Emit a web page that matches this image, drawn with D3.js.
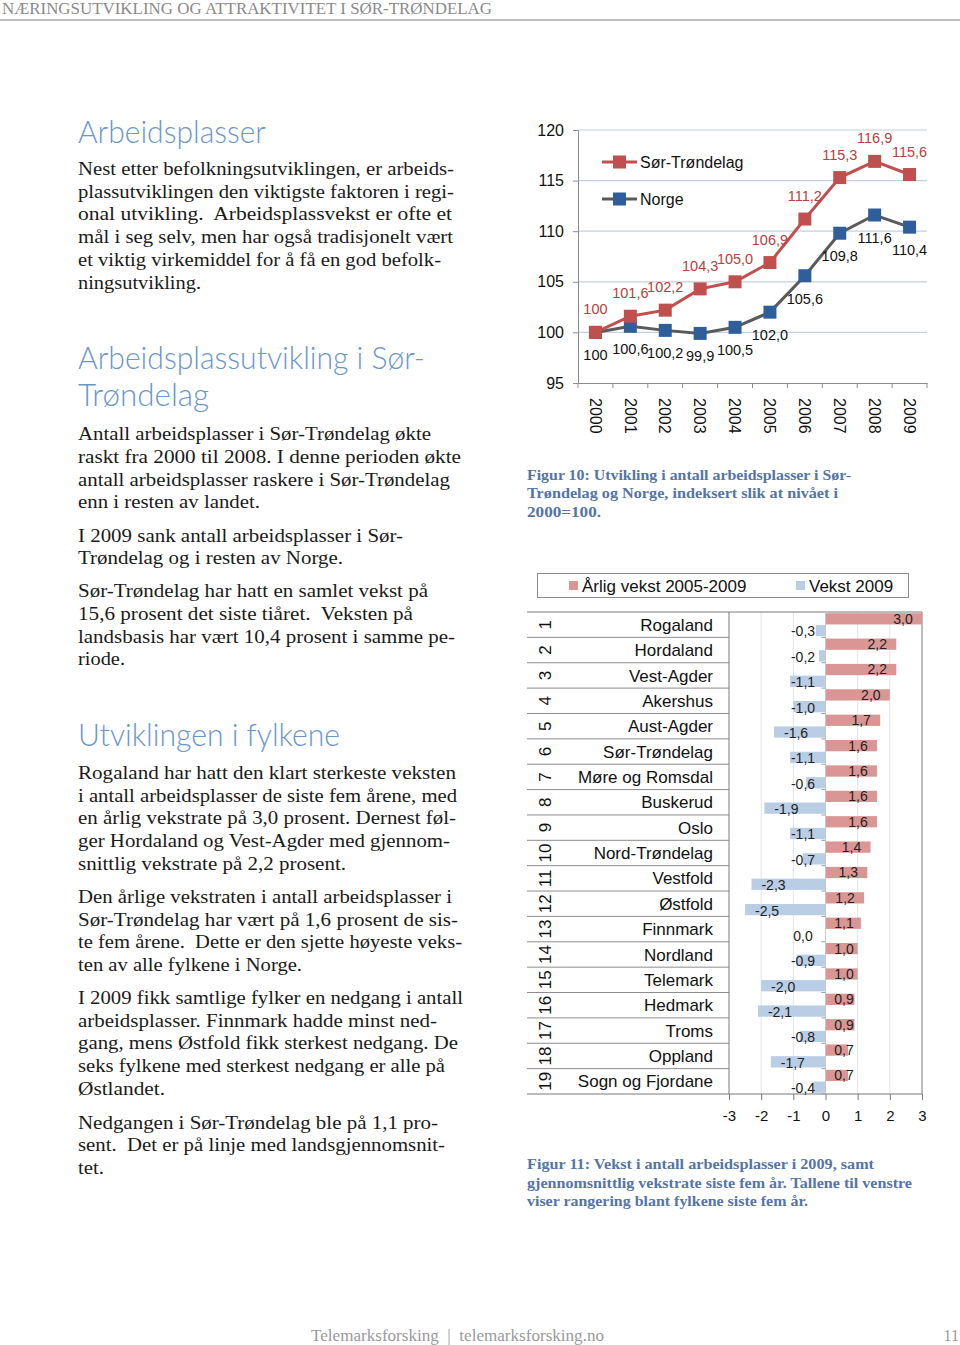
<!DOCTYPE html>
<html><head><meta charset="utf-8">
<script src="https://cdn.jsdelivr.net/npm/d3@7/dist/d3.min.js"></script>
<style>body{margin:0;background:#fff}svg{display:block}</style>
</head><body>
<script>
// ---------- DATA ----------
const years = ["2000","2001","2002","2003","2004","2005","2006","2007","2008","2009"];
const sorTrondelag = [100,101.6,102.2,104.3,105.0,106.9,111.2,115.3,116.9,115.6];
const norge = [100,100.6,100.2,99.9,100.5,102.0,105.6,109.8,111.6,110.4];
const lineYTicks = [95,100,105,110,115,120];

const ranks = [1,2,3,4,5,6,7,8,9,10,11,12,13,14,15,16,17,18,19];
const counties = ["Rogaland","Hordaland","Vest-Agder","Akershus","Aust-Agder","Sør-Trøndelag","Møre og Romsdal","Buskerud","Oslo","Nord-Trøndelag","Vestfold","Østfold","Finnmark","Nordland","Telemark","Hedmark","Troms","Oppland","Sogn og Fjordane"];
const annualGrowth = [3.0,2.2,2.2,2.0,1.7,1.6,1.6,1.6,1.6,1.4,1.3,1.2,1.1,1.0,1.0,0.9,0.9,0.7,0.7];
const growth2009 = [-0.3,-0.2,-1.1,-1.0,-1.6,-1.1,-0.6,-1.9,-1.1,-0.7,-2.3,-2.5,0.0,-0.9,-2.0,-2.1,-0.8,-1.7,-0.4];
const barXTicks = [-3,-2,-1,0,1,2,3];

// ---------- TEXT ----------
const headerText = "NÆRINGSUTVIKLING OG ATTRAKTIVITET I SØR-TRØNDELAG";
const headings = [
  {t:"Arbeidsplasser", y:143, end:266},
  {t:"Arbeidsplassutvikling i Sør-", y:369, end:425},
  {t:"Trøndelag", y:406, end:209},
  {t:"Utviklingen i fylkene", y:746, end:340}
];
const bodyLines = [
  ["Nest etter befolkningsutviklingen, er arbeids-",175,454],
  ["plassutviklingen den viktigste faktoren i regi-",198,454],
  ["onal utvikling.  Arbeidsplassvekst er ofte et",220,452],
  ["mål i seg selv, men har også tradisjonelt vært",243,453],
  ["et viktig virkemiddel for å få en god befolk-",266,441],
  ["ningsutvikling.",289,201],
  ["Antall arbeidsplasser i Sør-Trøndelag økte",440,431],
  ["raskt fra 2000 til 2008. I denne perioden økte",463,461],
  ["antall arbeidsplasser raskere i Sør-Trøndelag",486,450],
  ["enn i resten av landet.",508,260],
  ["I 2009 sank antall arbeidsplasser i Sør-",542,403],
  ["Trøndelag og i resten av Norge.",564,343],
  ["Sør-Trøndelag har hatt en samlet vekst på",597,428],
  ["15,6 prosent det siste tiåret.  Veksten på",620,413],
  ["landsbasis har vært 10,4 prosent i samme pe-",643,455],
  ["riode.",665,125],
  ["Rogaland har hatt den klart sterkeste veksten",779,456],
  ["i antall arbeidsplasser de siste fem årene, med",802,457],
  ["en årlig vekstrate på 3,0 prosent. Dernest føl-",824,456],
  ["ger Hordaland og Vest-Agder med gjennom-",847,450],
  ["snittlig vekstrate på 2,2 prosent.",870,346],
  ["Den årlige vekstraten i antall arbeidsplasser i",903,452],
  ["Sør-Trøndelag har vært på 1,6 prosent de sis-",926,458],
  ["te fem årene.  Dette er den sjette høyeste veks-",948,462],
  ["ten av alle fylkene i Norge.",971,302],
  ["I 2009 fikk samtlige fylker en nedgang i antall",1004,463],
  ["arbeidsplasser. Finnmark hadde minst ned-",1027,437],
  ["gang, mens Østfold fikk sterkest nedgang. De",1049,458],
  ["seks fylkene med sterkest nedgang er alle på",1072,445],
  ["Østlandet.",1095,165],
  ["Nedgangen i Sør-Trøndelag ble på 1,1 pro-",1129,438],
  ["sent.  Det er på linje med landsgjennomsnit-",1151,445],
  ["tet.",1174,104]
];
const caption10 = [["Figur 10: Utvikling i antall arbeidsplasser i Sør-",480,851],["Trøndelag og Norge, indeksert slik at nivået i",498,838],["2000=100.",517,601]];
const caption11 = [["Figur 11: Vekst i antall arbeidsplasser i 2009, samt",1169,874],["gjennomsnittlig vekstrate siste fem år. Tallene til venstre",1188,912],["viser rangering blant fylkene siste fem år.",1206,808]];

// ---------- SETUP ----------
const svg = d3.select("body").append("svg").attr("width",960).attr("height",1345);
const SANS = "'Liberation Sans', Arial, sans-serif";
const SERIF = "'Liberation Serif', 'Times New Roman', serif";
const locale = d3.formatLocale({decimal:",", thousands:" ", grouping:[3], currency:["",""], minus:"-"});
const f1 = locale.format(".1f");
const RED = "#c0504d", REDLBL = "#b9403d", BLUEMK = "#2f5f9b", GRAYLN = "#5a5a5a";

// header
svg.append("text").attr("x",2).attr("y",14).text(headerText)
  .attr("font-family",SERIF).attr("font-size",17).attr("fill","#8a8a8a")
  .attr("textLength",490).attr("lengthAdjust","spacingAndGlyphs");
svg.append("line").attr("x1",0).attr("x2",960).attr("y1",20).attr("y2",20).attr("stroke","#a8a8a8").attr("stroke-width",1.6);

// headings
svg.selectAll("text.h").data(headings).join("text").attr("class","h")
  .attr("x",78).attr("y",d=>d.y).text(d=>d.t)
  .attr("font-family","Lato, 'Open Sans', sans-serif").attr("font-weight",300)
  .attr("font-size",32).attr("fill","#6b96c9")
  .attr("textLength",d=>d.end-78).attr("lengthAdjust","spacingAndGlyphs");

// body text
svg.selectAll("text.b").data(bodyLines).join("text").attr("class","b")
  .attr("x",78).attr("y",d=>d[1]).text(d=>d[0])
  .attr("font-family",SERIF).attr("font-size",19.5).attr("fill","#1a1a1a")
  .attr("textLength",d=>d[2]-78).attr("lengthAdjust","spacingAndGlyphs")
  .style("white-space","pre");

// captions
svg.selectAll("text.c").data(caption10.concat(caption11)).join("text").attr("class","c")
  .attr("x",527).attr("y",d=>d[1]).text(d=>d[0])
  .attr("font-family",SERIF).attr("font-weight","bold").attr("font-size",15.5).attr("fill","#5475a5")
  .attr("textLength",d=>d[2]-527).attr("lengthAdjust","spacingAndGlyphs");

// footer
svg.append("text").attr("x",311).attr("y",1341).text("Telemarksforsking  |  telemarksforsking.no")
  .attr("font-family",SERIF).attr("font-size",16).attr("fill","#9a9a9a")
  .attr("textLength",293).attr("lengthAdjust","spacingAndGlyphs").style("white-space","pre");
svg.append("text").attr("x",959).attr("y",1341).attr("text-anchor","end").text("11")
  .attr("font-family",SERIF).attr("font-size",16).attr("fill","#9a9a9a");

// ---------- LINE CHART ----------
const lx = d3.scaleBand().domain(years).range([578,927]);
const ly = d3.scaleLinear().domain([95,120]).range([383,130]);
const lc = svg.append("g");
lc.selectAll("line.g").data(lineYTicks.filter(v=>v>95)).join("line")
  .attr("x1",578).attr("x2",927).attr("y1",d=>ly(d)).attr("y2",d=>ly(d))
  .attr("stroke","#c3d0df").attr("stroke-width",1.2);
const yAx = lc.append("g").attr("transform","translate(578,0)")
  .call(d3.axisLeft(ly).tickValues(lineYTicks).tickSize(5).tickPadding(9).tickFormat(d3.format("d")));
yAx.select(".domain").attr("stroke","#8c8c8c");
yAx.selectAll(".tick line").attr("stroke","#8c8c8c");
yAx.selectAll("text").attr("font-family",SANS).attr("font-size",16).attr("fill","#111");
const xAx = lc.append("g").attr("transform","translate(0,383)")
  .call(d3.axisBottom(lx).tickSize(0).tickFormat(""));
xAx.select(".domain").attr("stroke","#8c8c8c");
lc.selectAll("line.xt").data(d3.range(years.length+1)).join("line")
  .attr("x1",i=>578+i*lx.step()).attr("x2",i=>578+i*lx.step())
  .attr("y1",383).attr("y2",388).attr("stroke","#8c8c8c");
lc.selectAll("text.yr").data(years).join("text")
  .attr("transform",d=>`translate(${lx(d)+lx.bandwidth()/2},398) rotate(90)`)
  .attr("dy","0.36em").text(d=>d)
  .attr("font-family",SANS).attr("font-size",16).attr("fill","#111");

const cx = (d,i)=>lx(years[i])+lx.bandwidth()/2;
const lineGen = d3.line().x((d,i)=>cx(d,i)).y(d=>ly(d));
lc.append("path").datum(norge).attr("d",lineGen).attr("fill","none").attr("stroke",GRAYLN).attr("stroke-width",3);
lc.append("path").datum(sorTrondelag).attr("d",lineGen).attr("fill","none").attr("stroke",RED).attr("stroke-width",3);
const MS = 13;
lc.selectAll("rect.nm").data(norge).join("rect")
  .attr("x",(d,i)=>cx(d,i)-MS/2).attr("y",d=>ly(d)-MS/2).attr("width",MS).attr("height",MS).attr("fill",BLUEMK);
lc.selectAll("rect.sm").data(sorTrondelag).join("rect")
  .attr("x",(d,i)=>cx(d,i)-MS/2).attr("y",d=>ly(d)-MS/2).attr("width",MS).attr("height",MS).attr("fill",RED);
const lbl = (d,i)=> i===0 ? String(d) : f1(d);
lc.selectAll("text.sl").data(sorTrondelag).join("text")
  .attr("x",(d,i)=>cx(d,i)).attr("y",d=>ly(d)-18).attr("text-anchor","middle").text(lbl)
  .attr("font-family",SANS).attr("font-size",14.5).attr("fill",REDLBL);
lc.selectAll("text.nl").data(norge).join("text")
  .attr("x",(d,i)=>cx(d,i)).attr("y",d=>ly(d)+28).attr("text-anchor","middle").text(lbl)
  .attr("font-family",SANS).attr("font-size",14.5).attr("fill","#111");
const leg = [{n:"Sør-Trøndelag",c:RED,m:RED,y:162},{n:"Norge",c:GRAYLN,m:BLUEMK,y:199}];
const lg = lc.selectAll("g.lg").data(leg).join("g");
lg.append("line").attr("x1",602).attr("x2",637).attr("y1",d=>d.y).attr("y2",d=>d.y).attr("stroke",d=>d.c).attr("stroke-width",3);
lg.append("rect").attr("x",613).attr("y",d=>d.y-6.5).attr("width",MS).attr("height",MS).attr("fill",d=>d.m);
lg.append("text").attr("x",640).attr("y",d=>d.y+6).text(d=>d.n).attr("font-family",SANS).attr("font-size",16).attr("fill","#111");

// ---------- BAR CHART ----------
const bc = svg.append("g");
const by = d3.scaleBand().domain(counties).range([612,1094]);
const sub = d3.scaleBand().domain(["a","b"]).range([0,by.bandwidth()]).paddingInner(0.04).paddingOuter(0.1);
const bx = d3.scaleLinear().domain([-3,3]).range([729,922]);
const RBAR = "#da9694", BBAR = "#b9cde5";

bc.append("rect").attr("x",537.5).attr("y",573.5).attr("width",371).attr("height",24).attr("fill","none").attr("stroke","#8c8c8c");
const bl = [{n:"Årlig vekst 2005-2009",c:RBAR,x:569},{n:"Vekst 2009",c:BBAR,x:796}];
bc.selectAll("rect.bl").data(bl).join("rect").attr("x",d=>d.x).attr("y",581).attr("width",9).attr("height",9).attr("fill",d=>d.c);
bc.selectAll("text.bl").data(bl).join("text").attr("x",d=>d.x+13).attr("y",592).text(d=>d.n)
  .attr("font-family",SANS).attr("font-size",17).attr("fill","#111");

bc.selectAll("line.vg").data(barXTicks.filter(v=>v!==-3&&v!==3&&v!==0)).join("line")
  .attr("x1",d=>bx(d)).attr("x2",d=>bx(d)).attr("y1",612).attr("y2",1094)
  .attr("stroke","#dfe5ee").attr("stroke-width",1);
bc.selectAll("line.row").data(counties.slice(1)).join("line")
  .attr("x1",527).attr("x2",729).attr("y1",d=>by(d)).attr("y2",d=>by(d))
  .attr("stroke","#8c8c8c").attr("stroke-width",1);
bc.append("line").attr("x1",527).attr("x2",922).attr("y1",612).attr("y2",612).attr("stroke","#7a7a7a");
bc.append("line").attr("x1",729).attr("x2",729).attr("y1",612).attr("y2",1094).attr("stroke","#7a7a7a");
bc.append("line").attr("x1",922).attr("x2",922).attr("y1",612).attr("y2",1094).attr("stroke","#7a7a7a");
const bxAx = bc.append("g").attr("transform","translate(0,1094)")
  .call(d3.axisBottom(bx).tickValues(barXTicks).tickSize(6).tickPadding(10).tickFormat(d=>locale.format("d")(d)));
bxAx.select(".domain").remove();
bxAx.selectAll(".tick line").attr("stroke","#7a7a7a");
bxAx.selectAll("text").attr("font-family",SANS).attr("font-size",15).attr("fill","#111");
bc.append("line").attr("x1",527).attr("x2",922).attr("y1",1094).attr("y2",1094).attr("stroke","#7a7a7a");

bc.selectAll("rect.ra").data(annualGrowth).join("rect")
  .attr("x",bx(0)).attr("y",(d,i)=>by(counties[i])+sub("a"))
  .attr("width",d=>bx(d)-bx(0)).attr("height",sub.bandwidth()).attr("fill",RBAR);
bc.selectAll("rect.rb").data(growth2009).join("rect")
  .attr("x",d=>bx(d)).attr("y",(d,i)=>by(counties[i])+sub("b"))
  .attr("width",d=>bx(0)-bx(d)).attr("height",sub.bandwidth()).attr("fill",BBAR);
bc.append("line").attr("x1",bx(0)).attr("x2",bx(0)).attr("y1",612).attr("y2",1094).attr("stroke","#c8c8c8");
bc.selectAll("line.ct").data(counties).join("line")
  .attr("x1",bx(0)-4).attr("x2",bx(0)).attr("y1",d=>by(d)+by.bandwidth()).attr("y2",d=>by(d)+by.bandwidth())
  .attr("stroke","#9a9a9a");

bc.selectAll("text.va").data(annualGrowth).join("text")
  .attr("x",d=>Math.max(bx(d)-19,844)).attr("y",(d,i)=>by(counties[i])+sub("a")+sub.bandwidth()/2)
  .attr("dy","0.35em").attr("text-anchor","middle").text(d=>f1(d))
  .attr("font-family",SANS).attr("font-size",14).attr("fill","#222");
bc.selectAll("text.vb").data(growth2009).join("text")
  .attr("x",d=>Math.min(bx(d)+22,803)).attr("y",(d,i)=>by(counties[i])+sub("b")+sub.bandwidth()/2+1)
  .attr("dy","0.35em").attr("text-anchor","middle").text(d=>f1(d))
  .attr("font-family",SANS).attr("font-size",14).attr("fill","#222");

bc.selectAll("text.rk").data(ranks).join("text")
  .attr("transform",(d,i)=>`translate(545,${by(counties[i])+by.bandwidth()/2}) rotate(-90)`)
  .attr("dy","0.36em").attr("text-anchor","middle").text(d=>d)
  .attr("font-family",SANS).attr("font-size",17).attr("fill","#111");
bc.selectAll("text.cn").data(counties).join("text")
  .attr("x",713).attr("y",d=>by(d)+by.bandwidth()/2).attr("dy","0.36em").attr("text-anchor","end").text(d=>d)
  .attr("font-family",SANS).attr("font-size",17).attr("fill","#111");
</script>
</body></html>
